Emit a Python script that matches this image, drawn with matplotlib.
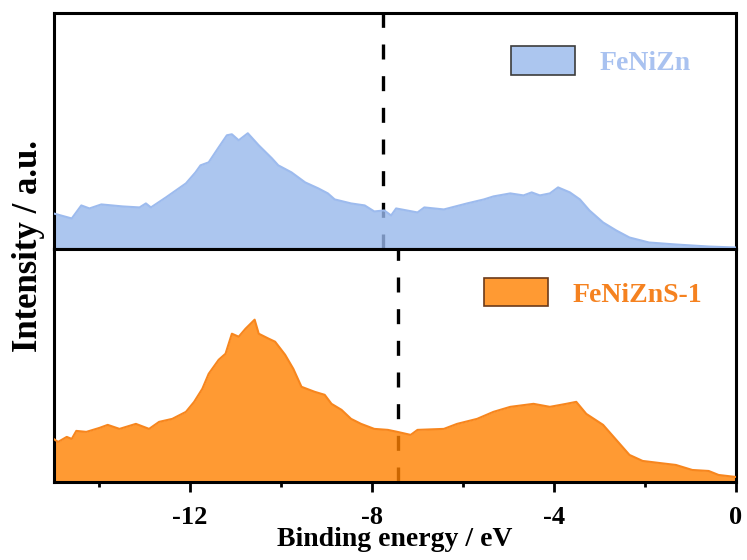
import matplotlib
matplotlib.use('Agg')
import matplotlib.pyplot as plt
from matplotlib.patches import Patch

plt.rcParams['font.family'] = ['Liberation Serif', 'DejaVu Serif']
plt.rcParams['font.weight'] = 'bold'

# valence band spectra (arbitrary intensity units)
energy_fenizn = [-15.0, -14.60, -14.39, -14.21, -13.95, -13.48, -13.11, -12.97, -12.86, -12.53,
                 -12.31, -12.09, -11.88, -11.77, -11.59, -11.37, -11.19, -11.08, -10.93, -10.73,
                 -10.49, -10.20, -10.06, -9.77, -9.47, -9.18, -8.97, -8.82, -8.46, -8.16,
                 -7.95, -7.73, -7.58, -7.47, -7.00, -6.85, -6.42, -5.91, -5.54, -5.33,
                 -4.96, -4.67, -4.49, -4.31, -4.09, -3.91, -3.65, -3.43, -3.22, -2.92,
                 -2.63, -2.34, -1.91, -1.31, -0.60, 0.0]
intensity_fenizn = [35, 30, 43, 40, 44, 42, 41, 45, 41, 51,
                    58, 65, 76, 83, 86, 101, 113, 114, 108, 115,
                    103, 90, 83, 76, 66, 60, 55, 49, 45, 43,
                    37, 38, 33, 40, 36, 41, 39, 45, 49, 52,
                    55, 53, 56, 53, 55, 61, 56, 49, 38, 26,
                    18, 11, 6, 4, 2, 1]

energy_fenizns = [-15.0, -14.90, -14.71, -14.60, -14.50, -14.28, -13.99, -13.81, -13.55, -13.19,
                  -12.90, -12.68, -12.39, -12.09, -11.91, -11.73, -11.59, -11.37, -11.22, -11.08,
                  -10.93, -10.78, -10.58, -10.49, -10.27, -10.13, -9.91, -9.73, -9.55, -9.26,
                  -9.04, -8.89, -8.67, -8.46, -8.24, -7.95, -7.65, -7.44, -7.15, -7.00,
                  -6.42, -6.13, -5.69, -5.33, -4.96, -4.45, -4.09, -3.73, -3.51, -3.29,
                  -2.92, -2.63, -2.34, -2.05, -1.69, -1.32, -0.96, -0.60, -0.38, 0.0]
intensity_fenizns = [43, 40, 45, 43, 51, 50, 54, 57, 53, 58,
                     53, 60, 63, 70, 80, 93, 108, 122, 128, 148,
                     145, 153, 162, 148, 143, 140, 127, 113, 95, 90,
                     87, 78, 72, 63, 58, 53, 52, 50, 47, 52,
                     53, 58, 63, 70, 75, 78, 75, 78, 80, 68,
                     57, 42, 27, 21, 19, 17, 12, 11, 7, 5]

vline_fenizn = -7.75
vline_fenizns = -7.42
labels = ['FeNiZn', 'FeNiZnS-1']
major_ticks = [-12, -8, -4, 0]
minor_ticks = [-14, -10, -6, -2]

blue_fill = '#98B8EC'
blue_edge = '#9DBBEE'
orange_fill = '#FF8100'
orange_edge = '#F7861E'

fig = plt.figure(figsize=(7.47, 5.6), dpi=100)
ax1 = fig.add_axes([0.0717, 0.5562, 0.9135, 0.4206])
ax2 = fig.add_axes([0.0717, 0.1393, 0.9135, 0.4169])

panels = [
    (ax1, energy_fenizn, intensity_fenizn, vline_fenizn, blue_fill, blue_edge, '#3C3C3C', '#A9C2F0', labels[0], 235, (0.670, 0.858)),
    (ax2, energy_fenizns, intensity_fenizns, vline_fenizns, orange_fill, orange_edge, '#6B3A1A', '#F58220', labels[1], 233, (0.631, 0.874)),
]

for ax, x, y, xv, fc, ec, hedge, tc, lab, ymax, anchor in panels:
    ax.axvline(xv, color='k', lw=2.4, ls=(0, (4.5, 5)), zorder=1)
    ax.fill_between(x, 0, y, color=fc, alpha=0.8, lw=0, zorder=2)
    ax.plot(x, y, color=ec, lw=1.5, zorder=3)
    ax.set_xlim(-15, 0)
    ax.set_ylim(0, ymax)
    for s in ax.spines.values():
        s.set_linewidth(2.2)
    handle = Patch(facecolor=fc, edgecolor=hedge, linewidth=1.2, label=lab)
    leg = ax.legend(handles=[handle], loc='upper left', bbox_to_anchor=anchor, frameon=False,
                    borderpad=0, borderaxespad=0, handlelength=2.3, handleheight=1.2,
                    handletextpad=0.9, prop={'size': 20, 'weight': 'bold'})
    leg.get_texts()[0].set_color(tc)
    leg.legend_handles[0].set_facecolor(matplotlib.colors.to_rgba(fc, 0.8))
    leg.legend_handles[0].set_edgecolor(hedge)

ax1.tick_params(bottom=False, left=False, labelbottom=False, labelleft=False)

ax2.set_xticks(major_ticks)
ax2.set_xticks(minor_ticks, minor=True)
ax2.set_xticklabels([str(t) for t in major_ticks])
ax2.tick_params(axis='x', which='major', direction='out', length=7, width=2, labelsize=19, pad=10)
ax2.tick_params(axis='x', which='minor', direction='out', length=3.5, width=2)
ax2.tick_params(left=False, labelleft=False)
ax2.set_xlabel('Binding energy / eV', fontsize=20, fontweight='bold', labelpad=-1)

fig.text(0.0375, 0.561, 'Intensity / a.u.', rotation=90, fontsize=25, fontweight='bold',
         ha='center', va='center')

fig.savefig('out.png', dpi=100)
